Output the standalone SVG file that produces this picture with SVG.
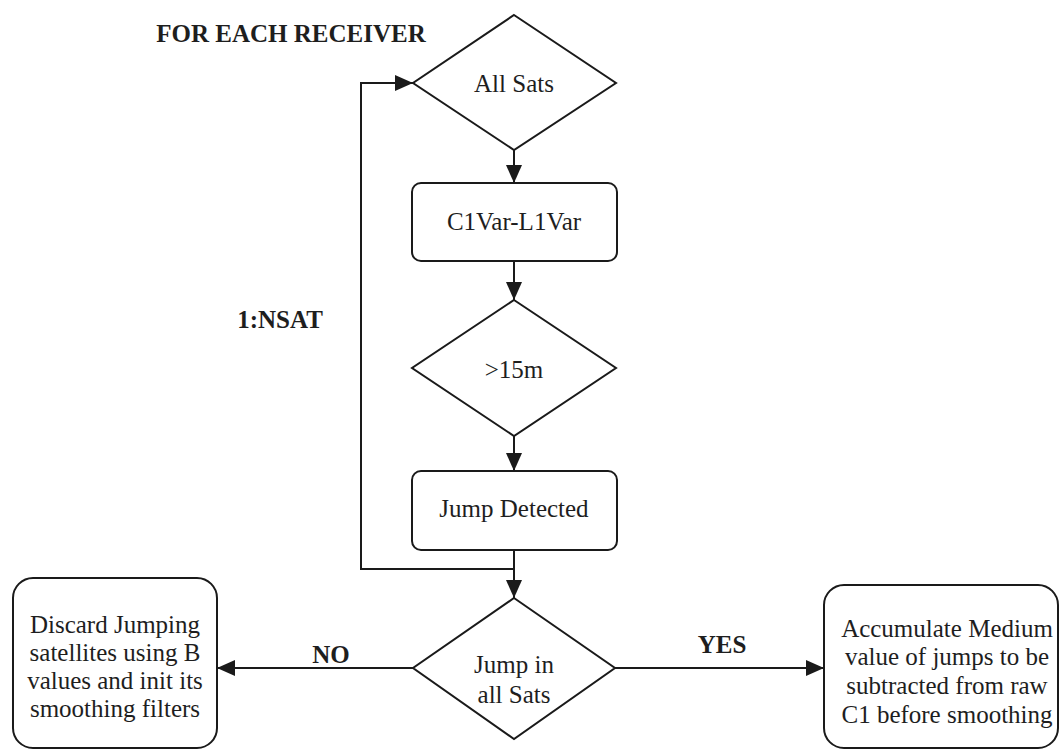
<svg xmlns="http://www.w3.org/2000/svg" width="1060" height="751" viewBox="0 0 1060 751">
  <style>
    .shape { fill: #ffffff; stroke: #1a1a1a; stroke-width: 2; }
    .wire { fill: none; stroke: #1a1a1a; stroke-width: 2; }
    .txt { font-family: "Liberation Serif", "Times New Roman", serif; font-size: 25px; fill: #1e1e1e; text-anchor: middle; }
    .bold { font-weight: bold; }
  </style>
  <defs>
    <marker id="arrow" markerWidth="18" markerHeight="16" refX="18" refY="8" orient="auto" markerUnits="userSpaceOnUse">
      <path d="M0,0 L18,8 L0,16 Z" fill="#1a1a1a"/>
    </marker>
  </defs>
  <rect width="1060" height="751" fill="#ffffff"/>

  <!-- free labels -->
  <text class="txt bold" x="291" y="42">FOR EACH RECEIVER</text>
  <text class="txt bold" x="280" y="328">1:NSAT</text>
  <text class="txt bold" x="331" y="663">NO</text>
  <text class="txt bold" x="722" y="653">YES</text>

  <!-- connectors -->
  <g id="connectors">
    <line class="wire" x1="514" y1="150" x2="514" y2="183" marker-end="url(#arrow)"/>
    <line class="wire" x1="514" y1="261" x2="514" y2="300" marker-end="url(#arrow)"/>
    <line class="wire" x1="514" y1="436" x2="514" y2="471" marker-end="url(#arrow)"/>
    <line class="wire" x1="514" y1="550" x2="514" y2="598" marker-end="url(#arrow)"/>
    <polyline class="wire" points="514,569 361,569 361,83 413,83" marker-end="url(#arrow)"/>
    <line class="wire" x1="413" y1="668" x2="217" y2="668" marker-end="url(#arrow)"/>
    <line class="wire" x1="615" y1="668" x2="824" y2="668" marker-end="url(#arrow)"/>
  </g>

  <g id="all-sats">
    <polygon class="shape" points="514,15 616,83 514,150 413,83"/>
    <text class="txt" x="514" y="92">All Sats</text>
  </g>

  <g id="c1var-l1var">
    <rect class="shape" x="412" y="183" width="205" height="78" rx="9"/>
    <text class="txt" x="514" y="230">C1Var-L1Var</text>
  </g>

  <g id="threshold">
    <polygon class="shape" points="514,300 616,368 514,436 412,368"/>
    <text class="txt" x="514" y="378">&gt;15m</text>
  </g>

  <g id="jump-detected">
    <rect class="shape" x="412" y="471" width="205" height="79" rx="9"/>
    <text class="txt" x="514" y="517">Jump Detected</text>
  </g>

  <g id="jump-all-sats">
    <polygon class="shape" points="514,598 615,668 514,739 413,668"/>
    <text class="txt" x="514" y="673">Jump in</text>
    <text class="txt" x="514" y="703">all Sats</text>
  </g>

  <g id="discard">
    <rect class="shape" x="13" y="578" width="204" height="170" rx="20"/>
    <text class="txt" x="115" y="633">Discard Jumping</text>
    <text class="txt" x="115" y="661">satellites using B</text>
    <text class="txt" x="115" y="689">values and init its</text>
    <text class="txt" x="115" y="717">smoothing filters</text>
  </g>

  <g id="accumulate">
    <rect class="shape" x="824" y="585" width="234" height="163" rx="20"/>
    <text class="txt" x="947" y="637">Accumulate Medium</text>
    <text class="txt" x="947" y="665">value of jumps to be</text>
    <text class="txt" x="947" y="694">subtracted from raw</text>
    <text class="txt" x="947" y="723">C1 before smoothing</text>
  </g>
</svg>
